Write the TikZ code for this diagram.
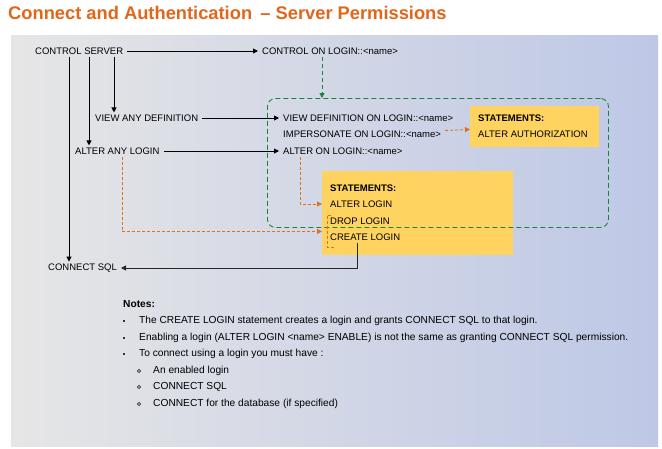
\documentclass[tikz,border=0pt]{standalone}
\usepackage{xcolor}
\usepackage{fontspec}
\setmainfont{Liberation Sans}
\usepackage{tikz}
\usetikzlibrary{arrows.meta}
\definecolor{titleorange}{HTML}{E2661A}
\definecolor{stmtyellow}{HTML}{FFD35F}
\definecolor{scopegreen}{HTML}{1A8535}
\definecolor{grantorange}{HTML}{E0701E}
\definecolor{panelgray}{HTML}{E6E6E6}
\definecolor{panelblue}{HTML}{BEC8E6}
\tikzset{perm/.style={anchor=west, inner xsep=4pt, inner ysep=2pt, font=\fontsize{9.5}{11}\selectfont}}
\tikzset{note/.style={perm, font=\fontsize{10.2}{12}\selectfont}}
\tikzset{grant/.style={line width=0.9pt, -{Triangle[length=5pt,width=5pt]}}}
\tikzset{implied/.style={grant, grantorange, dash pattern=on 3pt off 2pt}}
\tikzset{stmtbox/.style={fill=stmtyellow, anchor=north west, inner sep=0pt}}
\tikzset{scopebox/.style={draw=scopegreen, line width=0.9pt, dash pattern=on 5pt off 3pt, rounded corners=8pt, anchor=north west, inner sep=0pt}}
\tikzset{bulletsq/.style={fill=black!80, minimum size=2pt, inner sep=0pt}}
\tikzset{bulleto/.style={draw=black!80, circle, minimum size=3.4pt, inner sep=0pt, line width=0.7pt}}

\begin{document}
\begin{tikzpicture}[x=1pt, y=-1pt]
    \useasboundingbox (0,0) rectangle (662,448);
    \shade[left color=panelgray, right color=panelblue] (11,35) rectangle (658,446);

    \node[anchor=west, inner sep=0pt, text=titleorange, font=\bfseries\fontsize{18.3}{21}\selectfont] (title) at (8,13.4) {Connect and Authentication\hspace{0.45em}– Server Permissions};

    % statement boxes and the login scope
    \node[stmtbox, minimum width=129pt, minimum height=41pt] (authbox) at (470,106) {};
    \node[stmtbox, minimum width=191pt, minimum height=84pt] (loginbox) at (322,171) {};
    \node[scopebox, minimum width=341pt, minimum height=129pt] (onlogin) at (267,98) {};

    \node[perm] (ctrlsrv) at (31,51) {CONTROL SERVER};
    \node[perm] (ctrllogin) at (258,51) {CONTROL ON LOGIN::<name>};
    \node[perm] (viewany) at (91,118) {VIEW ANY DEFINITION};
    \node[perm] (alterany) at (71,151) {ALTER ANY LOGIN};
    \node[perm] (connectsql) at (44,268) {CONNECT SQL};

    \node[perm] (viewdef) at (279,118) {VIEW DEFINITION ON LOGIN::<name>};
    \node[perm] (impers) at (279,134) {IMPERSONATE ON LOGIN::<name>};
    \node[perm] (alteron) at (279,151) {ALTER ON LOGIN::<name>};

    \node[perm] (authhead) at (474,118) {\textbf{STATEMENTS:}};
    \node[perm] (alterauth) at (474,134) {ALTER AUTHORIZATION};

    \node[perm] (loginhead) at (326,188) {\textbf{STATEMENTS:}};
    \node[perm] (altlogin) at (326,204) {ALTER LOGIN};
    \node[perm] (droplogin) at (326,221) {DROP LOGIN};
    \node[perm] (createlogin) at (326,237) {CREATE LOGIN};

    \draw[grant] (ctrlsrv) -- (ctrllogin);
    \draw[grant] ([xshift=38pt]ctrlsrv.south west) -- ([xshift=38pt]ctrlsrv.south west |- connectsql.north);
    \draw[grant] ([xshift=58pt]ctrlsrv.south west) -- ([xshift=58pt]ctrlsrv.south west |- alterany.north);
    \draw[grant] ([xshift=83pt]ctrlsrv.south west) -- ([xshift=83pt]ctrlsrv.south west |- viewany.north);
    \draw[grant] (viewany) -- (viewdef);
    \draw[grant] (alterany) -- (alteron);
    \draw[grant, scopegreen, dash pattern=on 4pt off 3pt] ([xshift=64pt]ctrllogin.south west) -- ([xshift=64pt]ctrllogin.south west |- onlogin.north);

    \draw[implied] (impers) -- (authbox);
    \draw[implied] ([xshift=21pt]alteron.south west) |- (loginbox.west |- altlogin.west);
    \draw[implied] ([xshift=51pt]alterany.south west) |- (loginbox.west |- createlogin.north);
    \draw[grantorange, line width=0.9pt, dash pattern=on 3pt off 2pt] ([xshift=5pt]droplogin.north west) -| ([xshift=1pt,yshift=-5pt]createlogin.south west) -- ++(7pt,0);
    \draw[grant, black!85] ([xshift=31pt]createlogin.south west) |- (connectsql.east);

    % notes
    \node[note] (notes) at (119,304) {\textbf{Notes:}};
    \node[bulletsq] (b1) at (124,321) {};
    \node[bulletsq] (b2) at (124,338) {};
    \node[bulletsq] (b3) at (124,354) {};
    \node[bulleto] (o1) at (139,371) {};
    \node[bulleto] (o2) at (139,387) {};
    \node[bulleto] (o3) at (139,404) {};
    \node[note] (note1) at (135,321) {The CREATE LOGIN statement creates a login and grants CONNECT SQL to that login.};
    \node[note] (note2) at (135,338) {Enabling a login (ALTER LOGIN <name> ENABLE) is not the same as granting CONNECT SQL permission.};
    \node[note] (note3) at (135,354) {To connect using a login you must have :};
    \node[note] (sub1) at (149,371) {An enabled login};
    \node[note] (sub2) at (149,387) {CONNECT SQL};
    \node[note] (sub3) at (149,404) {CONNECT for the database (if specified)};
\end{tikzpicture}
\end{document}
